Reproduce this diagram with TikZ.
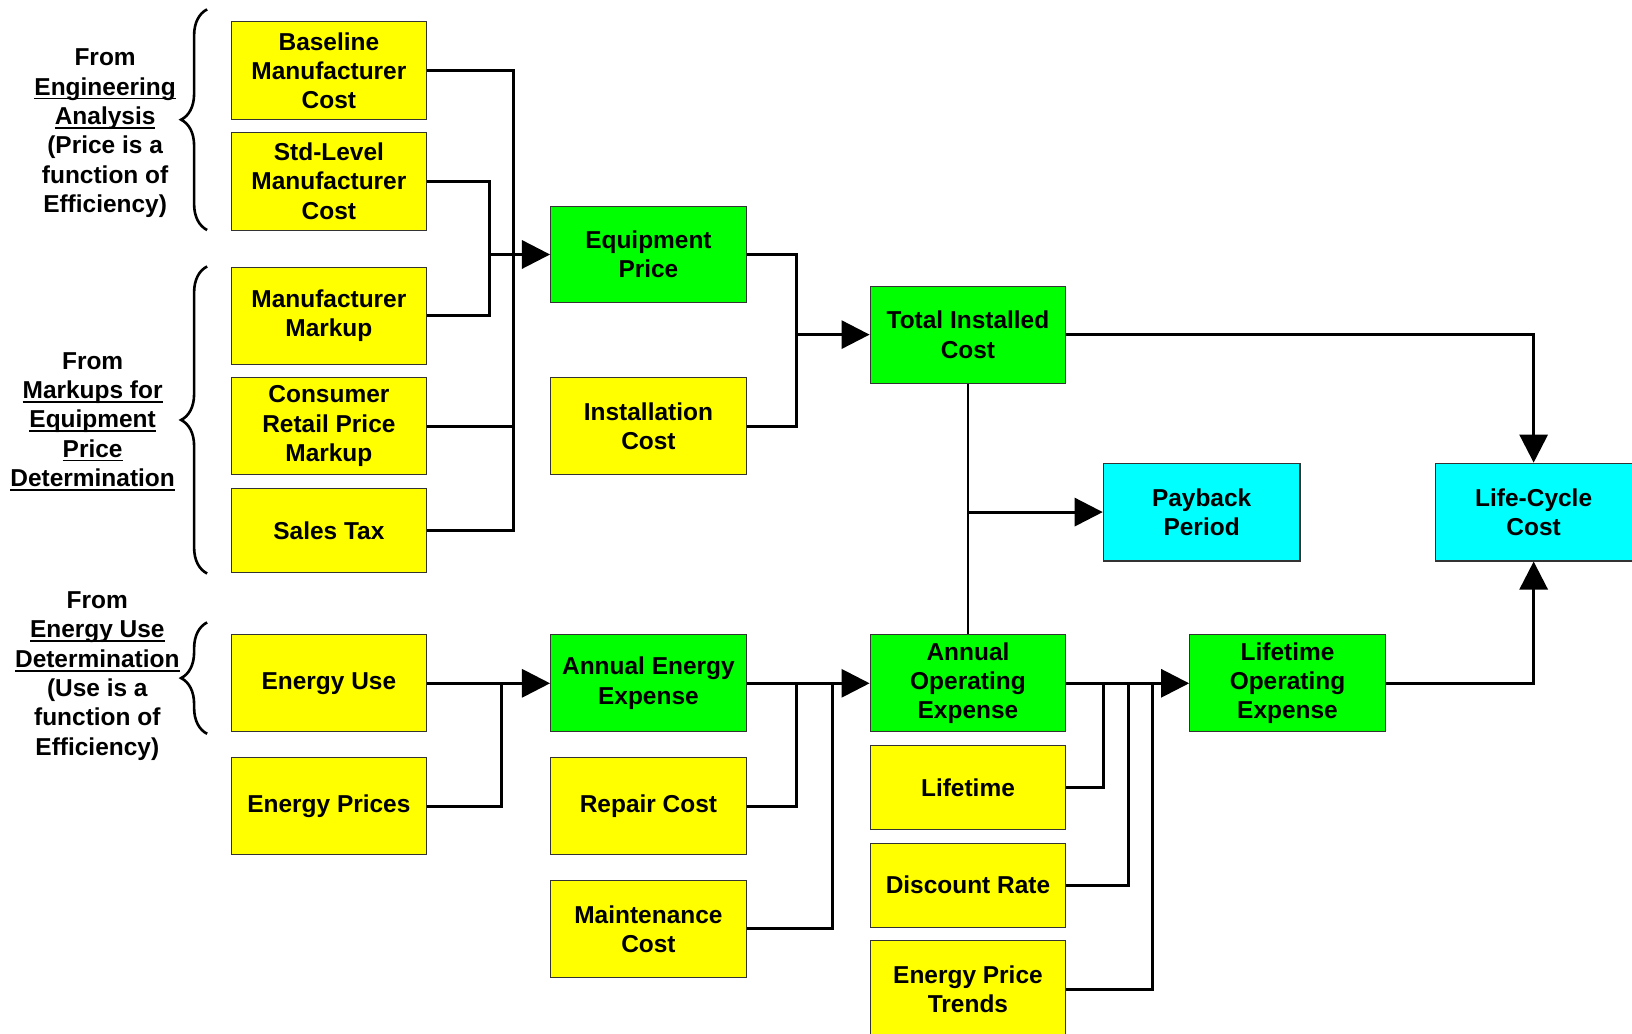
\documentclass[tikz,border=0pt]{standalone}
\usepackage{fontspec}
\setmainfont{Liberation Sans}
\usetikzlibrary{arrows.meta,decorations.pathreplacing,calc}
\definecolor{boxyellow}{HTML}{FFFF00}
\definecolor{boxgreen}{HTML}{00FF00}
\definecolor{boxcyan}{HTML}{00FFFF}
% underline at a fixed depth, independent of descenders
\newcommand\ulword[1]{\begingroup\setbox0\hbox{#1}\rlap{\rule[-4.2pt]{\wd0}{1.8pt}}\box0\endgroup}
\begin{document}
\begin{tikzpicture}[x=1pt,y=-1pt,
  box/.style={draw=black!80, line width=1pt, minimum width=188pt, minimum height=93pt,
    inner sep=0pt, align=center, font=\fontsize{23.5}{28.2}\selectfont\bfseries},
  inbox/.style={box, fill=boxyellow},
  midbox/.style={box, fill=boxgreen},
  outbox/.style={box, fill=boxcyan},
  wire/.style={line width=2.8pt},
  arr/.style={wire, -{Triangle[length=27pt,width=27pt]}},
  brace/.style={line width=2.5pt, decorate, decoration={brace, amplitude=25pt}},
  note/.style={align=center, inner sep=0pt, font=\fontsize{23.5}{28.2}\selectfont\bfseries}]
\useasboundingbox (0,0) rectangle (1568,993);
\clip (0,0) rectangle (1568,993);

% input boxes, first column
\node[inbox, minimum height=94pt] (base) at (316,68) {Baseline\\Manufacturer\\Cost};
\node[inbox, minimum height=94pt] (std) at (316,174) {Std-Level\\Manufacturer\\Cost};
\node[inbox] (mmk) at (316,303.5) {Manufacturer\\Markup};
\node[inbox] (crp) at (316,409.5) {Consumer\\Retail Price\\Markup};
\node[inbox, minimum height=81pt] (tax) at (316,509.5) {Sales Tax};
\node[inbox] (euse) at (316,656.5) {Energy Use};
\node[inbox] (eprice) at (316,774.5) {Energy Prices};

% second column
\node[midbox] (eqp) at (623,244.5) {Equipment\\Price};
\node[inbox] (inst) at (623,409.5) {Installation\\Cost};
\node[midbox] (aee) at (623,656.5) {Annual Energy\\Expense};
\node[inbox] (rep) at (623,774.5) {Repair Cost};
\node[inbox] (mnt) at (623,892.5) {Maintenance\\Cost};

% third column
\node[midbox] (tic) at (930,321.5) {Total Installed\\Cost};
\node[midbox] (aoe) at (930,656.5) {Annual\\Operating\\Expense};
\node[inbox, minimum height=81pt] (life) at (930,756.5) {Lifetime};
\node[inbox, minimum height=81pt] (disc) at (930,850.5) {Discount Rate};
\node[inbox] (ept) at (930,950.5) {Energy Price\\Trends};

% outputs
\node[midbox] (loe) at (1237,656.5) {Lifetime\\Operating\\Expense};
\node[outbox, minimum width=189pt, minimum height=94pt] (pb) at (1154.5,492) {Payback\\Period};
\node[outbox, minimum width=189pt, minimum height=94pt] (lcc) at (1473.5,492) {Life-Cycle\\Cost};

% source notes with braces
\node[note] (srcA) at (101,128) {From\\\ulword{Engineering}\\\ulword{Analysis}\\(Price is a\\function of\\Efficiency)};
\node[note] (srcB) at (89,405) {From\\\ulword{Markups for}\\\ulword{Equipment}\\\ulword{Price}\\\ulword{Determination}};
\node[note] (srcC) at (93.5,649.5) {From\\\ulword{Energy Use}\\\ulword{Determination}\\(Use is a\\function of\\Efficiency)};
\draw[brace] (199,221) -- (199,9);
\draw[brace] (199,551) -- (199,256);
\draw[brace] (199,705) -- (199,598);

% bus lines
\coordinate (bA) at (493,0);
\coordinate (bB) at (470,0);
\coordinate (bC) at (765,0);
\coordinate (bD) at (482,0);
\coordinate (bE) at (765,0);
\coordinate (bF) at (800,0);
\coordinate (bG) at (1060,0);
\coordinate (bH) at (1084,0);
\coordinate (bI) at (1107,0);

% equipment price inputs
\draw[wire] (base.east) -| (bA |- tax.east) -- (tax.east);
\draw[wire] (crp.east) -- (bA |- crp.east);
\draw[wire] (std.east) -| (bB |- mmk.east) -- (mmk.east);
\draw[arr] (bB |- eqp.west) -- (eqp.west);

% total installed cost
\draw[wire] (eqp.east) -| (bC |- inst.east) -- (inst.east);
\draw[arr] (bC |- tic.west) -- (tic.west);
\draw[arr] (tic.east) -| (lcc.north);
\draw[wire] (tic.south) -- (aoe.north);
\draw[arr] (tic.south |- pb.west) -- (pb.west);

% annual energy and operating expense
\draw[arr] (euse.east) -- (aee.west);
\draw[wire] (eprice.east) -| (bD |- euse.east);
\draw[arr] (aee.east) -- (aoe.west);
\draw[wire] (rep.east) -| (bE |- aee.east);
\draw[wire] (mnt.east) -| (bF |- aee.east);

% lifetime operating expense
\draw[arr] (aoe.east) -- (loe.west);
\draw[wire] (life.east) -| (bG |- aoe.east);
\draw[wire] (disc.east) -| (bH |- aoe.east);
\draw[wire] (ept.east) -| (bI |- aoe.east);
\draw[arr] (loe.east) -| (lcc.south);
\end{tikzpicture}
\end{document}
